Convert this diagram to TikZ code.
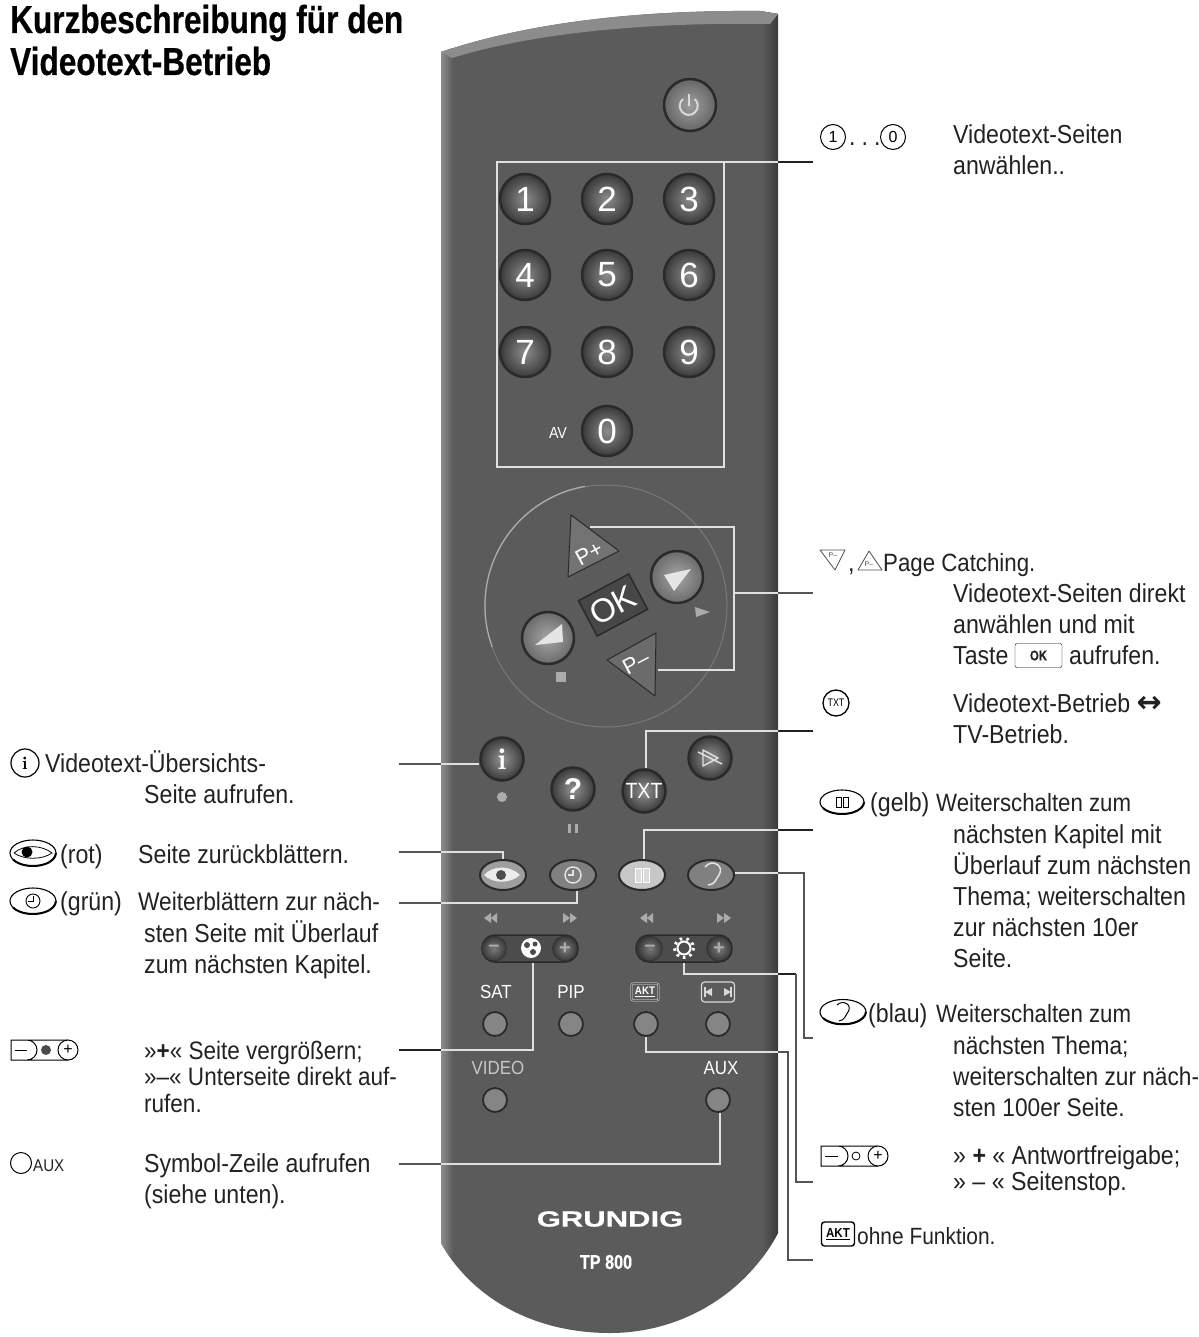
\documentclass[tikz,border=0pt]{standalone}
\usepackage{fontspec}
\setmainfont[FakeStretch=0.89]{Liberation Sans}
\newfontfamily\titlefont[FakeStretch=0.81,BoldFeatures={FakeBold=0.5}]{Liberation Sans}
\newfontfamily\logofont[FakeStretch=1.41,BoldFeatures={FakeBold=0.5}]{Liberation Sans}
\newfontfamily\keyfont{Liberation Sans}
\newfontfamily\symfont{DejaVu Sans}
\usetikzlibrary{shapes.geometric}
\definecolor{bodygrey}{HTML}{5B5B5B}
\definecolor{edgelight}{HTML}{8C8C8C}
\definecolor{edgedark}{HTML}{3A3A3A}
\definecolor{rimdark}{HTML}{2A2A2A}
\definecolor{textgrey}{HTML}{222222}
\definecolor{markgrey}{HTML}{ABABAB}
\definecolor{thingrey}{HTML}{555555}
\tikzstyle{desc} = [anchor=base west, inner sep=0pt, align=left, text=textgrey,
font=\fontsize{26}{31}\selectfont]
\tikzstyle{numkey} = [circle, minimum size=50pt, inner sep=0pt, draw=rimdark, line width=2.5pt,
inner color=black!45, outer color=edgedark, text=white, font=\keyfont\fontsize{35}{35}\selectfont]
\tikzstyle{bigkey} = [circle, minimum size=52pt, inner sep=0pt, draw=rimdark, line width=2.5pt,
inner color=black!35, outer color=black!58]
\tikzstyle{midkey} = [circle, minimum size=43pt, inner sep=0pt, draw=rimdark, line width=2.5pt,
inner color=black!42, outer color=edgedark, text=white, font=\keyfont\bfseries\fontsize{30}{30}\selectfont]
\tikzstyle{ovalkey} = [ellipse, minimum width=46pt, minimum height=30pt, inner sep=0pt,
draw=rimdark, line width=2pt, fill=black!50]
\tikzstyle{smallkey} = [circle, minimum size=24pt, inner sep=0pt, draw=rimdark, line width=1.8pt,
fill=black!48]
\tikzstyle{rocker} = [rectangle, rounded corners=13pt, minimum width=96pt, minimum height=27pt,
draw=rimdark, line width=1.5pt, fill=black!70]
\tikzstyle{ball} = [circle, minimum size=25pt, inner sep=0pt, draw=rimdark, inner color=black!52,
outer color=black!78, text=markgrey, font=\keyfont\bfseries\fontsize{20}{20}\selectfont]
\tikzstyle{remlabel} = [inner sep=0pt, text=white, font=\fontsize{19}{19}\selectfont]
\tikzstyle{leadin} = [draw=white!88!black, line width=1.3pt]
\tikzstyle{leadout} = [draw=textgrey, line width=1.7pt]
\tikzstyle{leadthin} = [draw=thingrey, line width=1.2pt]
\tikzstyle{iconoval} = [ellipse, draw=black, line width=1.1pt, minimum width=46pt, minimum height=26pt, inner sep=0pt]
\tikzstyle{iconround} = [circle, draw=black, line width=1pt, inner sep=0pt, text=black]
\tikzstyle{tinymark} = [inner sep=0pt, text=black!70, font=\keyfont\fontsize{7}{7}\selectfont]

\begin{document}
\begin{tikzpicture}[x=1pt, y=-1pt, node distance=82pt]
\useasboundingbox (0,0) rectangle (1198,1337);

% ------------------------- remote body -------------------------
\begin{scope}
\clip (441,52) .. controls (530,22) and (640,10) .. (760,11) -- (778,14) -- (778,1233)
  .. controls (745,1295) and (680,1333) .. (610,1333) .. controls (530,1333) and (470,1295) .. (441,1243) -- cycle;
\fill[bodygrey] (430,0) rectangle (790,1337);
\shade[left color=edgelight, right color=bodygrey] (441,0) rectangle (453,1337);
\shade[left color=bodygrey, right color=edgedark] (762,0) rectangle (778,1337);
\fill[edgelight] (441,52) .. controls (530,22) and (640,10) .. (760,11) -- (778,14) -- (770,24)
  .. controls (640,22) and (530,34) .. (452,58) -- cycle;
\end{scope}

% ------------------------- keys -------------------------
% ----- power
\node(power)[bigkey, inner color=black!38, outer color=black!60] at (690,105){};
\draw[white!85!black, line width=2pt] (683,99) arc (230:-50:9);
\draw[white!85!black, line width=2pt] (689,94) -- (689,106);
% ----- digits
\node(key1)[numkey] at (525,199){1};
\node(key2)[numkey, right of=key1]{2};
\node(key3)[numkey, right of=key2]{3};
\node(key4)[numkey, below of=key1, yshift=6pt]{4};
\node(key5)[numkey, right of=key4]{5};
\node(key6)[numkey, right of=key5]{6};
\node(key7)[numkey, below of=key4, yshift=5pt]{7};
\node(key8)[numkey, right of=key7]{8};
\node(key9)[numkey, right of=key8]{9};
\node(key0)[numkey, below of=key8, yshift=3pt]{0};
\node(av)[remlabel, font=\fontsize{16}{16}\selectfont, left of=key0, xshift=33pt, yshift=-2pt]{AV};
\node(keypad)[rectangle, draw=white!88!black, line width=1.3pt, outer sep=0pt, minimum width=227pt, minimum height=305pt] at (610.5,314.5){};
% ----- page ring
\node(ring)[circle, draw=black!52, line width=1pt, minimum size=242pt] at (606,606){};
\draw[edgelight!70!white, line width=1.2pt] (ring.100) arc (-100:-200:121);
\coordinate(ppt1) at (571,515);
\coordinate(ppt2) at (619,551);
\coordinate(ppt3) at (568,577);
\fill[black!55, draw=rimdark, line width=1pt, line join=round] (ppt1) -- (ppt2) -- (ppt3) -- cycle;
\node(pplus)[inner sep=0pt, text=white, rotate=28, font=\keyfont\fontsize{22}{22}\selectfont] at (589,553){P+};
\coordinate(pmt1) at (656,633);
\coordinate(pmt2) at (607,660);
\coordinate(pmt3) at (655,696);
\fill[black!58, draw=rimdark, line width=1pt, line join=round] (pmt1) -- (pmt2) -- (pmt3) -- cycle;
\node(pminus)[inner sep=0pt, text=white, rotate=28, font=\keyfont\fontsize{22}{22}\selectfont] at (636,662){P–};
\node(ok)[rectangle, draw=rimdark, line width=1.5pt, fill=black!72, minimum width=57pt, minimum height=40pt,
  inner sep=0pt, rotate=28, text=white, font=\keyfont\fontsize{33}{33}\selectfont] at (613,605){OK};
\node(keyr)[bigkey] at (677,577){};
\fill[white!90!black] (691,569) -- (664,575) -- (674,591) -- cycle;
\node(keyl)[bigkey] at (548,638){};
\fill[white!90!black] (562,624) -- (535,645) -- (563,642) -- cycle;
\fill[markgrey] (695,607) -- (710,612) -- (696,617) -- cycle;
\fill[markgrey] (556,672) rectangle (566,682);
% ----- round keys
\node(info)[midkey, font=\fontfamily{lmr}\bfseries\fontsize{30}{30}\selectfont] at (502,759){i};
\fill[markgrey] (502,797) circle (5);
\node(help)[midkey] at (573,789){?};
\fill[markgrey] (568,824) rectangle (571,833);
\fill[markgrey] (575,824) rectangle (578,833);
\node(txt)[midkey, font=\fontsize{22}{22}\selectfont] at (644,791){TXT};
\node(cross)[midkey] at (710,758){};
\draw[white!88!black, line width=1.4pt, line join=round] (703,750) -- (703,766) -- (718,758) -- cycle (698,752) -- (722,764);
% ----- coloured keys
\node(eye)[ovalkey, fill=black!38] at (503,875){};
\fill[white!92!black] (484,875) .. controls (493,865) and (510,865) .. (520,875) .. controls (510,884) and (493,884) .. (484,875) -- cycle;
\fill[black!70] (501,875) circle (5);
\node(clock)[ovalkey] at (573,875){};
\draw[white!90!black, line width=1.4pt] (573,875) circle (8);
\draw[white!90!black, line width=1.2pt] (573,870) -- (573,875) -- (568,875);
\node(yellow)[ovalkey, fill=black!22] at (642,875){};
\draw[white, line width=1pt, fill=black!14] (635,868) rectangle (641,882);
\draw[white, line width=1pt, fill=black!14] (643,868) rectangle (649,882);
\node(ear)[ovalkey] at (711,875){};
\draw[white!90!black, line width=1.5pt] (705,867) .. controls (712,858) and (725,866) .. (719,875) .. controls (715,880) and (716,884) .. (708,885);
% ----- rockers
\fill[markgrey] (484,918) -- (491,913) -- (491,923) -- cycle (491,918) -- (497,913) -- (497,923) -- cycle;
\fill[markgrey] (577,918) -- (570,913) -- (570,923) -- cycle (570,918) -- (563,913) -- (563,923) -- cycle;
\fill[markgrey] (640,918) -- (647,913) -- (647,923) -- cycle (647,918) -- (653,913) -- (653,923) -- cycle;
\fill[markgrey] (731,918) -- (724,913) -- (724,923) -- cycle (724,918) -- (717,913) -- (717,923) -- cycle;
\node(rockl)[rocker] at (530,948.5){};
\node(lminus)[ball] at (494,948.5){–};
\node(lplus)[ball] at (565,948.5){+};
\fill[white] (531,948) circle (10);
\fill[black!70] (527,945) circle (3) (535,944) circle (2.5) (533,952) circle (3);
\node(rockr)[rocker] at (684,948.5){};
\node(rminus)[ball] at (650,948.5){–};
\node(rplus)[ball] at (719,948.5){+};
\draw[white, line width=2pt] (684,948) circle (6.5);
\draw[white, line width=3pt, dash pattern=on 2.5pt off 4.2pt] (684,948) circle (9.5);
% ----- small keys
\node(sat)[remlabel] at (496,992){SAT};
\node(pip)[remlabel] at (571,992){PIP};
\node(akt)[rectangle, draw=white, rounded corners=2pt, double=bodygrey, double distance=1pt, inner sep=1pt, minimum width=27pt, minimum height=17pt, text=white, font=\bfseries\fontsize{11}{11}\selectfont] at (645,992){\underline{AKT}};
\node(aspect)[rectangle, draw=white!85!black, rounded corners=3pt, line width=1.2pt, minimum width=33pt, minimum height=20pt] at (718,992){};
\fill[white!85!black] (705,992) -- (712,988) -- (712,996) -- cycle (731,992) -- (724,988) -- (724,996) -- cycle;
\draw[white!85!black, line width=1.2pt] (705,987) -- (705,997) (731,987) -- (731,997);
\node(satkey)[smallkey] at (495,1024){};
\node(pipkey)[smallkey] at (571,1024){};
\node(aktkey)[smallkey] at (646,1024){};
\node(aspkey)[smallkey] at (718,1024){};
\node(video)[remlabel, text=black!22] at (498,1068){VIDEO};
\node(aux)[remlabel] at (721,1068){AUX};
\node(vidkey)[smallkey] at (495,1100){};
\node(auxkey)[smallkey] at (718,1100){};
% ----- logo
\node(logo)[text=white, inner sep=0pt, font=\logofont\bfseries\fontsize{22}{22}\selectfont] at (610,1219){GRUNDIG};
\node(model)[text=white, inner sep=0pt, font=\titlefont\bfseries\fontsize{20}{20}\selectfont] at (606,1262){TP 800};

% ------------------------- connections -------------------------
% ----- right side, inside then outside the body
\coordinate(e1) at (778,162);
\coordinate(t1) at (813,162);
\draw[leadin](keypad.north east)--(e1);
\draw[leadout](e1)--(t1);
\coordinate(brk1) at (734,527);
\coordinate(brk2) at (734,670);
\coordinate(ppin) at (590,527);
\coordinate(pmin) at (658,670);
\coordinate(brkm) at (734,593);
\coordinate(e2) at (778,593);
\coordinate(t2) at (813,593);
\draw[leadin](ppin)--(brk1)--(brk2)--(pmin);
\draw[leadin](brkm)--(e2);
\draw[leadthin](e2)--(t2);
\coordinate(e3) at (778,731);
\coordinate(t3) at (813,731);
\draw[leadin]([xshift=2pt]txt.north)|-(e3);
\draw[leadout, line width=1.3pt](e3)--(t3);
\coordinate(e4) at (778,830);
\coordinate(t4) at (813,830);
\draw[leadin, line width=1.6pt]([xshift=2pt]yellow.north)|-(e4);
\draw[leadout](e4)--(t4);
\coordinate(e5) at (778,873);
\coordinate(c5) at (804,873);
\coordinate(t5) at (813,1038);
\draw[leadin]([yshift=2pt]ear.east)--(e5);
\draw[leadthin](e5)--(c5)|-(t5);
\coordinate(e6) at (778,974);
\coordinate(c6) at (796,974);
\coordinate(t6) at (813,1182);
\draw[leadin](rockr.south)|-(e6);
\draw[leadout](e6)--(c6);
\draw[leadthin](c6)|-(t6);
\coordinate(e7) at (778,1052);
\coordinate(c7) at (788,1052);
\coordinate(t7) at (813,1260);
\draw[leadin](aktkey.south)|-(e7);
\draw[leadthin](e7)--(c7)|-(t7);
% ----- left side
\coordinate(e8) at (441,764);
\coordinate(t8) at (399,764);
\draw[leadthin](t8)--(e8);
\draw[leadin](e8)--([yshift=-5pt]info.west);
\coordinate(e9) at (441,852);
\coordinate(t9) at (399,852);
\draw[leadthin](t9)--(e9);
\draw[leadin](e9)-|(eye.north);
\coordinate(e10) at (441,903);
\coordinate(t10) at (399,903);
\draw[leadthin](t10)--(e10);
\draw[leadin](e10)-|([xshift=4pt]clock.south);
\coordinate(e11) at (441,1050);
\coordinate(t11) at (399,1050);
\draw[leadout](t11)--(e11);
\draw[leadin](e11)-|([xshift=3pt]rockl.south);
\coordinate(e12) at (441,1164);
\coordinate(t12) at (399,1164);
\draw[leadthin](t12)--(e12);
\draw[leadin](e12)-|([xshift=2pt]auxkey.south);

% ------------------------- title -------------------------
\node(title)[desc, text=black, font=\titlefont\bfseries\fontsize{39}{42}\selectfont] at (10,75){Kurzbeschreibung für den\\Videotext-Betrieb};

% ------------------------- right texts -------------------------
% ----- digits
\node(icon1)[iconround, minimum size=25pt, font=\keyfont\fontsize{16}{16}\selectfont] at (833,137){1};
\node(dots)[desc] at (849,146){.\hspace{6pt}.\hspace{6pt}.};
\node(icon0)[iconround, minimum size=25pt, font=\keyfont\fontsize{16}{16}\selectfont] at (893,137){0};
\node(txt1)[desc] at (953,175){Videotext-Seiten\\anwählen..};
% ----- page catching
\draw[black!70, line width=.8pt, line join=round] (820,550) -- (845,550) -- (835,570) -- cycle;
\node(markpm)[tinymark] at (833,555){P–};
\node(comma)[desc] at (848,571){,};
\draw[black!70, line width=.8pt, line join=round] (858,570) -- (882,570) -- (869,551) -- cycle;
\node(markpp)[tinymark] at (869,564){P–};
\node(txt2a)[desc, font=\fontsize{25}{31}\selectfont] at (883,571){Page Catching.};
\node(txt2)[desc] at (953,664){Videotext-Seiten direkt\\anwählen und mit\\Taste};
\node(okbox)[rectangle, draw=black, rounded corners=2pt, minimum width=47pt, minimum height=24pt, inner sep=0pt, text=textgrey, font=\titlefont\bfseries\fontsize{14}{14}\selectfont] at (1038.5,655.5){OK};
\node(txt2b)[desc] at (1069,664){aufrufen.};
% ----- txt
\node(icontxt)[iconround, line width=1.3pt, minimum size=26pt, font=\titlefont\fontsize{11}{11}\selectfont] at (836,703){TXT};
\node(txt3)[desc] at (953,743){Videotext-Betrieb {\symfont\bfseries\fontsize{30}{31}\selectfont ↔}\\TV-Betrieb.};
% ----- gelb
\node(icongelb)[iconoval, minimum width=44pt, minimum height=24pt] at (842,802){};
\draw[black, line width=2pt] (823,808) arc (150:0:22 and 12);
\draw[black, line width=.8pt] (836,797) rectangle (841,807) (843,797) rectangle (848,807);
\node(txt4a)[desc] at (870,811){(gelb)};
\node(txt4b)[desc, font=\fontsize{25}{31}\selectfont] at (936,811){Weiterschalten zum};
\node(txt4)[desc] at (953,967){nächsten Kapitel mit\\Überlauf zum nächsten\\Thema; weiterschalten\\zur nächsten 10er\\Seite.};
% ----- blau
\node(iconblau)[iconoval, minimum width=46pt, minimum height=25pt] at (843,1012){};
\draw[black, line width=2pt] (823,1018) arc (150:0:23 and 12.5);
\draw[black, line width=1pt] (837,1005) .. controls (843,999) and (853,1005) .. (848,1012) .. controls (845,1016) and (845,1020) .. (839,1021);
\node(txt5a)[desc] at (868,1022){(blau)};
\node(txt5b)[desc, font=\fontsize{25}{31}\selectfont] at (936,1022){Weiterschalten zum};
\node(txt5)[desc, font=\fontsize{25.5}{31}\selectfont] at (953,1116){nächsten Thema;\\weiterschalten zur näch-\\sten 100er Seite.};
% ----- rocker
\draw[black, line width=1pt] (838,1146) -- (821,1146) -- (821,1166) -- (838,1166) (838,1146) arc (-90:90:10) (838,1146) -- (878,1146) (838,1166) -- (878,1166);
\draw[black, line width=1pt] (825,1156) -- (838,1156);
\draw[black, line width=.8pt] (856,1156) circle (4);
\node(iconplusr)[iconround, fill=white, minimum size=20pt, font=\keyfont\fontsize{16}{16}\selectfont] at (878,1156){+};
\node(txt6)[desc, font=\fontsize{26}{26}\selectfont] at (953,1190){» {\bfseries +} « Antwortfreigabe;\\» – « Seitenstop.};
% ----- akt
\node(iconakt)[rectangle, draw=black, line width=1.4pt, rounded corners=3pt, minimum width=33pt, minimum height=24pt, inner sep=0pt, text=black, font=\bfseries\fontsize{13}{13}\selectfont] at (838,1234){\underline{AKT}};
\node(txt7)[desc, font=\fontsize{23.5}{31}\selectfont] at (857,1244){ohne Funktion.};

% ------------------------- left texts -------------------------
\node(iconinfo)[iconround, line width=1.2pt, minimum size=28pt, font=\fontfamily{lmr}\bfseries\fontsize{18}{18}\selectfont] at (25,763){i};
\node(txt8)[desc] at (45,772){Videotext-Übersichts-};
\node(txt8b)[desc] at (144,803){Seite aufrufen.};
\node(iconeye)[iconoval] at (33,853){};
\draw[black, line width=2pt] (13,859.5) arc (150:0:23 and 13);
\fill[black] (27,852) circle (5.5);
\draw[black, line width=.8pt] (14,853) .. controls (24,844) and (42,845) .. (52,853) .. controls (42,860) and (24,860) .. (14,853);
\node(txt9a)[desc] at (60,863){(rot)};
\node(txt9)[desc] at (138,863){Seite zurückblättern.};
\node(iconclock)[iconoval] at (33,901){};
\draw[black, line width=2pt] (13,907.5) arc (150:0:23 and 13);
\draw[black, line width=.9pt] (33,901) circle (7);
\draw[black, line width=.9pt] (33,896) -- (33,901) -- (28,901);
\node(txt10a)[desc] at (60,910){(grün)};
\node(txt10b)[desc, font=\fontsize{25.5}{31}\selectfont] at (138,910){Weiterblättern zur näch-};
\node(txt10)[desc] at (144,973){sten Seite mit Überlauf\\zum nächsten Kapitel.};
\draw[black, line width=1pt] (27,1040) -- (11,1040) -- (11,1060) -- (27,1060) (27,1040) arc (-90:90:10) (27,1040) -- (68,1040) (27,1060) -- (68,1060);
\draw[black, line width=1pt] (15,1050) -- (27,1050);
\fill[black!70] (46,1050) circle (5);
\node(iconplusl)[iconround, fill=white, minimum size=20pt, font=\keyfont\fontsize{16}{16}\selectfont] at (68,1050){+};
\node(txt11)[desc, font=\fontsize{25.3}{26.5}\selectfont] at (144,1112){»{\bfseries +}« Seite vergrößern;\\»–« Unterseite direkt auf-\\rufen.};
\node(iconaux)[iconround, minimum size=21pt] at (21,1163){};
\node(txt12a)[desc, font=\fontsize{17}{17}\selectfont] at (33,1171){AUX};
\node(txt12)[desc] at (144,1203){Symbol-Zeile aufrufen\\(siehe unten).};
\end{tikzpicture}
\end{document}
